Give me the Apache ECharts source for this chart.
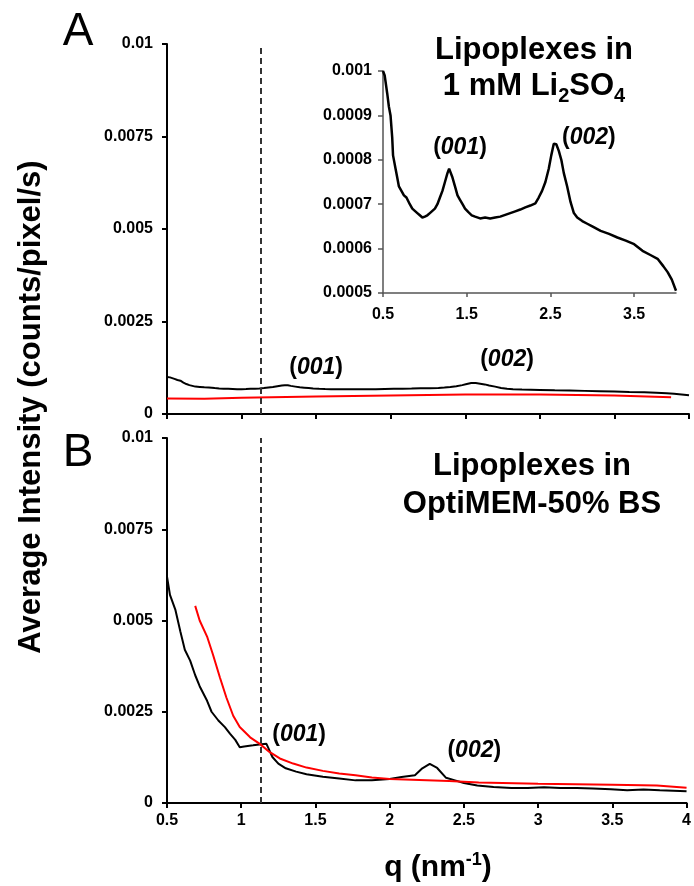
<!DOCTYPE html>
<html>
<head>
<meta charset="utf-8">
<script src="https://cdn.jsdelivr.net/npm/echarts@6/dist/echarts.min.js"></script>
<style>
html,body{margin:0;padding:0;background:#fff;}
#c{width:694px;height:886px;}
</style>
</head>
<body>
<div id="c"></div>
<script>
// ---- Data ----
const dashedQ = 1.13;

// Panel A: lipoplexes in 1 mM Li2SO4 (black), same trace shown in inset
const aBlackQ = [0.5,0.52,0.55,0.57,0.59,0.61,0.62,0.63,0.65,0.67,0.69,0.72,0.75,0.78,0.82,0.85,0.88,0.91,0.94,0.97,1.0,1.03,1.06,1.09,1.12,1.15,1.18,1.21,1.24,1.27,1.29,1.31,1.33,1.36,1.39,1.42,1.45,1.48,1.52,1.56,1.6,1.66,1.72,1.78,1.84,1.9,1.96,2.02,2.08,2.14,2.2,2.26,2.32,2.36,2.4,2.44,2.48,2.51,2.54,2.57,2.6,2.63,2.66,2.7,2.74,2.78,2.82,2.88,2.94,3.0,3.1,3.2,3.3,3.4,3.5,3.6,3.7,3.78,3.85,3.9,3.95,4.0];
const aBlackI = [0.001,0.00099,0.00095,0.00092,0.0009,0.00085,0.00081,0.00081,0.00078,0.00076,0.00074,0.00073,0.00072,0.000715,0.0007,0.00069,0.000685,0.00068,0.000675,0.00067,0.000672,0.000675,0.00068,0.000685,0.00069,0.0007,0.000715,0.00073,0.00075,0.00077,0.00078,0.000778,0.00076,0.00074,0.00072,0.00071,0.0007,0.00069,0.000682,0.000675,0.000672,0.000668,0.00067,0.000668,0.00067,0.000672,0.000676,0.00068,0.000684,0.000688,0.000693,0.000697,0.000702,0.000715,0.00073,0.00075,0.00078,0.00081,0.000836,0.000835,0.00082,0.0008,0.00077,0.00074,0.000705,0.00068,0.00067,0.000662,0.000656,0.00065,0.00064,0.000633,0.000625,0.000618,0.00061,0.000595,0.000585,0.000577,0.00056,0.000547,0.00053,0.000505];
const aRedQ = [0.5,0.75,1.0,1.5,2.0,2.5,3.0,3.5,3.88];
const aRedI = [0.00042,0.00041,0.00044,0.00047,0.0005,0.00053,0.00053,0.0005,0.00045];

// Panel B: lipoplexes in OptiMEM-50% BS
const bBlackQ = [0.5,0.52,0.556,0.59,0.62,0.656,0.69,0.72,0.77,0.8,0.846,0.89,0.924,0.96,0.99,1.02,1.08,1.136,1.17,1.19,1.21,1.25,1.3,1.37,1.44,1.55,1.66,1.77,1.88,2.0,2.08,2.17,2.22,2.27,2.32,2.38,2.44,2.5,2.59,2.7,2.82,2.93,3.04,3.15,3.26,3.37,3.49,3.6,3.71,3.82,4.0];
const bBlackI = [0.0062,0.0057,0.0053,0.0047,0.0042,0.0039,0.0035,0.0032,0.0028,0.0025,0.00226,0.00208,0.0019,0.00173,0.00153,0.00155,0.00158,0.00161,0.00162,0.00144,0.00126,0.00108,0.00095,0.00086,0.00079,0.00072,0.00067,0.00062,0.00062,0.00066,0.00071,0.00076,0.00095,0.00107,0.00096,0.00069,0.00062,0.00055,0.00048,0.00044,0.00041,0.00041,0.00043,0.00041,0.00041,0.0004,0.00038,0.00035,0.00037,0.00035,0.00032];
const bRedQ = [0.69,0.72,0.77,0.81,0.857,0.9,0.946,0.99,1.06,1.125,1.19,1.26,1.35,1.44,1.55,1.66,1.77,1.88,2.0,2.2,2.4,2.6,3.0,3.5,3.8,4.0];
const bRedI = [0.0054,0.005,0.00456,0.00406,0.00343,0.00289,0.00239,0.00208,0.0018,0.00162,0.0014,0.00122,0.00108,0.00097,0.00088,0.00081,0.00076,0.0007,0.00066,0.00063,0.0006,0.00056,0.00053,0.0005,0.00048,0.00042];

// Tick values
const mainXTicks = [0.5,1,1.5,2,2.5,3,3.5,4];
const mainYTicks = [0,0.0025,0.005,0.0075,0.01];
const insetXTicks = [0.5,1.5,2.5,3.5];
const insetYTicks = [0.0005,0.0006,0.0007,0.0008,0.0009,0.001];

// Annotations [q, intensity, label]
const annA = [[1.5,0.00124,'001'],[2.78,0.00146,'002']];
const annInset = [[1.42,0.000828,'001'],[2.96,0.00085,'002']];
const annB = [[1.39,0.00187,'001'],[2.57,0.00143,'002']];

// ---- Chart ----
const zip = (q, v) => q.map((x, i) => [x, v[i]]);
const FONT = '"Liberation Sans", Arial, Helvetica, sans-serif';

function mainX(gi, showLabels) {
  return {
    type: 'value', gridIndex: gi, min: 0.5, max: 4, interval: 0.5,
    axisLine: {show: true, onZero: false, lineStyle: {color: '#000', width: 2}},
    axisTick: {show: true, length: 5, customValues: mainXTicks, lineStyle: {color: '#000', width: 2}},
    axisLabel: {show: showLabels, color: '#000', fontFamily: FONT, fontWeight: 'bold', fontSize: 16, margin: 10,
      customValues: mainXTicks, formatter: v => String(+v.toFixed(2))},
    splitLine: {show: false}
  };
}
function mainY(gi) {
  return {
    type: 'value', gridIndex: gi, min: 0, max: 0.01, interval: 0.0025,
    axisLine: {show: true, lineStyle: {color: '#000', width: 2}},
    axisTick: {show: true, length: 5, customValues: mainYTicks, lineStyle: {color: '#000', width: 2}},
    axisLabel: {color: '#000', fontFamily: FONT, fontWeight: 'bold', fontSize: 16, margin: 14,
      customValues: mainYTicks, formatter: v => String(+v.toFixed(5))},
    splitLine: {show: false}
  };
}
const dashLine = {
  symbol: 'none', silent: true, label: {show: false},
  lineStyle: {color: '#333', width: 2, type: [6, 4]},
  data: [{xAxis: dashedQ}]
};
function annSeries(xi, yi, data) {
  return {
    type: 'scatter', xAxisIndex: xi, yAxisIndex: yi, symbolSize: 0, silent: true,
    itemStyle: {color: '#000', opacity: 1},
    data: data.map(d => ({value: [d[0], d[1]], name: d[2]})),
    label: {show: true, position: 'inside', color: '#000', opacity: 1, textBorderWidth: 0, textBorderColor: 'transparent',
      formatter: p => '{p|(}{i|' + p.name + '}{p|)}',
      rich: {
        p: {fontFamily: FONT, fontWeight: 'bold', fontSize: 23, color: '#000', textBorderWidth: 0},
        i: {fontFamily: FONT, fontWeight: 'bold', fontStyle: 'italic', fontSize: 23, color: '#000', textBorderWidth: 0}
      }},
    z: 10
  };
}
function line(xi, yi, data, color, width, extra) {
  return Object.assign({
    type: 'line', xAxisIndex: xi, yAxisIndex: yi, data: data, showSymbol: false, symbol: 'none',
    lineStyle: {color: color, width: width}, silent: true, animation: false
  }, extra || {});
}

const titleRich = {
  a: {fontFamily: FONT, fontWeight: 'bold', fontSize: 31, color: '#000', lineHeight: 36, verticalAlign: 'middle'},
  s: {fontFamily: FONT, fontWeight: 'bold', fontSize: 20, color: '#000', lineHeight: 40, verticalAlign: 'bottom'}
};

const chart = echarts.init(document.getElementById('c'), null, {renderer: 'canvas'});
chart.setOption({
  animation: false,
  backgroundColor: '#fff',
  grid: [
    {left: 167, top: 44, width: 522, height: 370},
    {left: 383, top: 71, width: 293, height: 222},
    {left: 167, top: 438, width: 522, height: 365}
  ],
  xAxis: [
    mainX(0, false),
    {
      type: 'value', gridIndex: 1, min: 0.5, max: 4,
      axisLine: {show: true, onZero: false, lineStyle: {color: '#555', width: 1.5}},
      axisTick: {show: true, length: 4, customValues: insetXTicks, lineStyle: {color: '#555', width: 1.5}},
      axisLabel: {color: '#000', fontFamily: FONT, fontWeight: 'bold', fontSize: 16, margin: 14, customValues: insetXTicks,
        formatter: v => String(+v.toFixed(2))},
      splitLine: {show: false}
    },
    mainX(2, true)
  ],
  yAxis: [
    mainY(0),
    {
      type: 'value', gridIndex: 1, min: 0.0005, max: 0.001, interval: 0.0001,
      axisLine: {show: true, lineStyle: {color: '#555', width: 1.5}},
      axisTick: {show: true, length: 5, customValues: insetYTicks, lineStyle: {color: '#555', width: 1.5}},
      axisLabel: {color: '#000', fontFamily: FONT, fontWeight: 'bold', fontSize: 16, margin: 11, customValues: insetYTicks,
        formatter: v => String(+v.toFixed(5))},
      splitLine: {show: false}
    },
    mainY(2)
  ],
  series: [
    line(0, 0, zip(aRedQ, aRedI), '#ff0000', 2),
    line(0, 0, zip(aBlackQ, aBlackI), '#000', 2, {markLine: dashLine}),
    line(1, 1, zip(aBlackQ, aBlackI), '#000', 2.5),
    line(2, 2, zip(bRedQ, bRedI), '#ff0000', 2, {z: 3}),
    line(2, 2, zip(bBlackQ, bBlackI), '#000', 2, {markLine: dashLine, z: 2}),
    annSeries(0, 0, annA),
    annSeries(1, 1, annInset),
    annSeries(2, 2, annB)
  ],
  graphic: [
    {type: 'text', x: 78, y: 32, style: {text: 'A', fontFamily: FONT, fontSize: 46, fill: '#000', align: 'center', verticalAlign: 'middle'}},
    {type: 'text', x: 78, y: 453, style: {text: 'B', fontFamily: FONT, fontSize: 46, fill: '#000', align: 'center', verticalAlign: 'middle'}},
    {type: 'text', x: 534, y: 50, style: {text: 'Lipoplexes in', fontFamily: FONT, fontWeight: 'bold', fontSize: 31, fill: '#000', align: 'center', verticalAlign: 'middle'}},
    {type: 'text', x: 534, y: 86, style: {text: '{a|1 mM Li}{s|2}{a|SO}{s|4}', rich: titleRich, align: 'center', verticalAlign: 'middle'}},
    {type: 'text', x: 532, y: 466, style: {text: 'Lipoplexes in', fontFamily: FONT, fontWeight: 'bold', fontSize: 31, fill: '#000', align: 'center', verticalAlign: 'middle'}},
    {type: 'text', x: 532, y: 504, style: {text: 'OptiMEM-50% BS', fontFamily: FONT, fontWeight: 'bold', fontSize: 31, fill: '#000', align: 'center', verticalAlign: 'middle'}},
    {type: 'text', x: 31, y: 407, rotation: Math.PI / 2, style: {text: 'Average Intensity (counts/pixel/s)', fontFamily: FONT, fontWeight: 'bold', fontSize: 31, fill: '#000', align: 'center', verticalAlign: 'middle'}},
    {type: 'text', x: 438, y: 868, style: {text: '{a|q (nm}{s|-1}{a|)}', align: 'center', verticalAlign: 'middle',
      rich: {
        a: {fontFamily: FONT, fontWeight: 'bold', fontSize: 30, color: '#000', lineHeight: 34, verticalAlign: 'middle'},
        s: {fontFamily: FONT, fontWeight: 'bold', fontSize: 18, color: '#000', lineHeight: 22, verticalAlign: 'top'}
      }}}
  ]
});
</script>
</body>
</html>
